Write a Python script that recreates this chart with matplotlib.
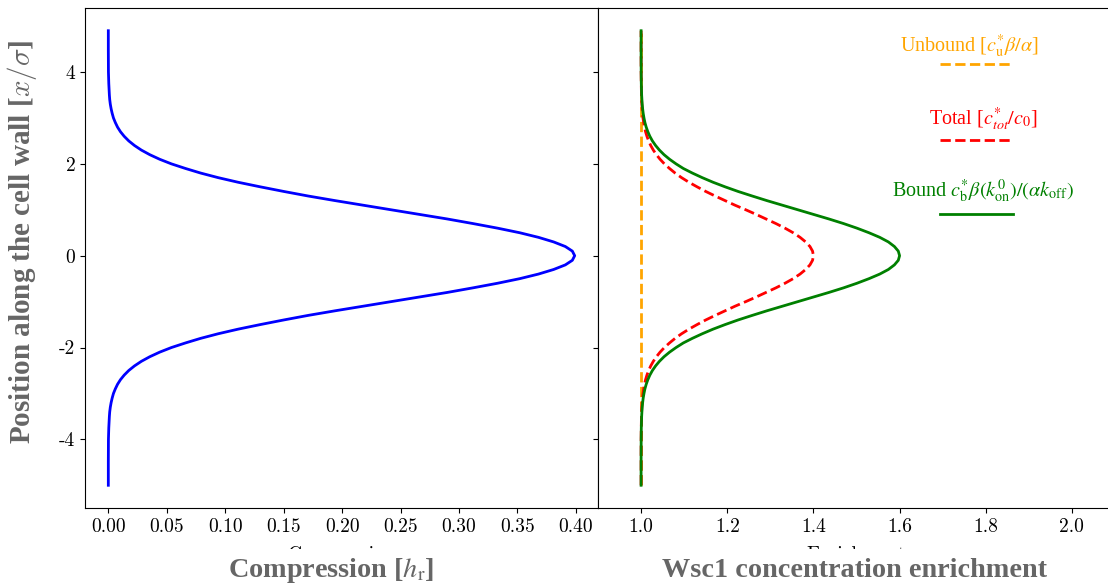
import numpy as np
import matplotlib
matplotlib.use("Agg")
import matplotlib.pyplot as plt
from matplotlib.lines import Line2D
from matplotlib.patches import Rectangle

plt.rcParams['font.family'] = 'cmr10'
plt.rcParams['axes.unicode_minus'] = False
plt.rcParams['mathtext.fontset'] = 'stix'

# positions along the wall (x / sigma)
pos_tail_lo = [-5.0, -4.5, -4.0, -3.75]
pos_mid = list(np.round(np.arange(-3.5, 3.55, 0.1), 1))
pos_tail_hi = [3.75, 4.0, 4.5, 4.9]
position = np.array(pos_tail_lo + pos_mid + pos_tail_hi)

# values read for |x| = 0, 0.1, ..., 3.5 (symmetric), then tails 3.75, 4, 4.5, 4.9/5
comp_half = [0.399, 0.397, 0.391, 0.381, 0.368, 0.352, 0.333, 0.312, 0.290, 0.266,
             0.242, 0.218, 0.194, 0.171, 0.150, 0.130, 0.111, 0.094, 0.079, 0.066,
             0.0540, 0.0440, 0.0355, 0.0283, 0.0224, 0.0175, 0.0136, 0.0104, 0.0079,
             0.0060, 0.0044, 0.0033, 0.0024, 0.0017, 0.0012, 0.0009]
comp_tail = [0.0004, 0.0001, 0.0, 0.0]

total_half = [1.400, 1.398, 1.392, 1.382, 1.369, 1.353, 1.334, 1.313, 1.290, 1.267,
              1.243, 1.218, 1.195, 1.172, 1.150, 1.130, 1.111, 1.094, 1.079, 1.066,
              1.0541, 1.0441, 1.0356, 1.0284, 1.0224, 1.0176, 1.0136, 1.0104, 1.0079,
              1.0060, 1.0044, 1.0033, 1.0024, 1.0017, 1.0012, 1.0009]
total_tail = [1.0004, 1.0001, 1.0, 1.0]

bound_half = [1.600, 1.597, 1.588, 1.574, 1.554, 1.529, 1.501, 1.470, 1.436, 1.400,
              1.364, 1.328, 1.292, 1.258, 1.225, 1.195, 1.167, 1.142, 1.119, 1.098,
              1.0812, 1.0662, 1.0533, 1.0426, 1.0337, 1.0263, 1.0204, 1.0157, 1.0119,
              1.0089, 1.0067, 1.0049, 1.0036, 1.0026, 1.0019, 1.0013]
bound_tail = [1.0005, 1.0002, 1.0, 1.0]


def full(half, tail):
    # lower tail, mirrored core, upper tail
    return np.array(tail[::-1] + half[:0:-1] + half + tail)


compression = full(comp_half, comp_tail)
total = full(total_half, total_tail)
bound = full(bound_half, bound_tail)
unbound = np.ones_like(position)

fig = plt.figure(figsize=(11.08, 5.86), dpi=100)
W, H = 1108, 586
ax1 = fig.add_axes([85 / W, 78 / H, 513 / W, 500 / H])
ax2 = fig.add_axes([598 / W, 78 / H, 517 / W, 500 / H], sharey=ax1)

ax1.plot(compression, position, color='blue', lw=2)
ax1.set_xticks(np.arange(0, 0.401, 0.05))
ax1.set_yticks([-4, -2, 0, 2, 4])

ax2.plot(unbound, position, color='orange', lw=2, ls='--')
ax2.plot(total, position, color='red', lw=2, ls='--')
ax2.plot(bound, position, color='green', lw=2)
ax2.set_xlim(0.9, 2.1)
ax2.set_xticks([1.0, 1.2, 1.4, 1.6, 1.8, 2.0])
ax2.tick_params(labelleft=False)

for ax in (ax1, ax2):
    ax.tick_params(labelsize=14)
ax1.set_xlabel('Compression', fontsize=14, labelpad=7.5)
ax2.set_xlabel('Enrichment', fontsize=14, labelpad=7.5)

# legend: label above each handle
legend_items = [
    (r'Unbound [$c_{\rm u}^{*}\beta/\alpha$]', 'orange', '--', 0.7176, 0.912, 0.888),
    (r'Total [$c_{tot}^{*}/c_0$]', 'red', '--', 0.7447, 0.766, 0.736),
    (r'Bound $c_{\rm b}^{*}\beta(k_{\rm on}^{0})/(\alpha k_{\rm off})$', 'green', '-',
     0.7447, 0.622, 0.588),
]
for label, col, ls, tx, ty, ly in legend_items:
    ax2.text(tx, ty, label, transform=ax2.transAxes, ha='center', va='baseline',
             color=col, fontsize=14.5, family='Liberation Serif')
    ax2.add_line(Line2D([0.6615, 0.8027], [ly, ly], transform=ax2.transAxes,
                        color=col, ls=ls, lw=2, clip_on=False))

# cover the small labels, then the big grey ones
fig.patches.append(Rectangle((0, 0), 1, (H - 549) / H, transform=fig.transFigure,
                             facecolor='white', edgecolor='none', zorder=1))
grey = '#666666'
fig.text(331 / W, 1 - 577 / H, r'Compression [$h_{\rm r}$]', ha='center', va='baseline',
         fontsize=20.3, fontweight='bold', color=grey, family='Liberation Serif', zorder=3)
fig.text(854 / W, 1 - 577 / H, 'Wsc1 concentration enrichment', ha='center',
         va='baseline', fontsize=20.3, fontweight='bold', color=grey,
         family='Liberation Serif', zorder=3)
fig.text(22 / W, 1 - 242 / H, r'Position along the cell wall [$x/\sigma$]', ha='center',
         va='center', rotation=90, fontsize=21, fontweight='bold', color=grey,
         family='Liberation Serif', math_fontfamily='cm', zorder=3)

fig.savefig('out.png', dpi=100)
